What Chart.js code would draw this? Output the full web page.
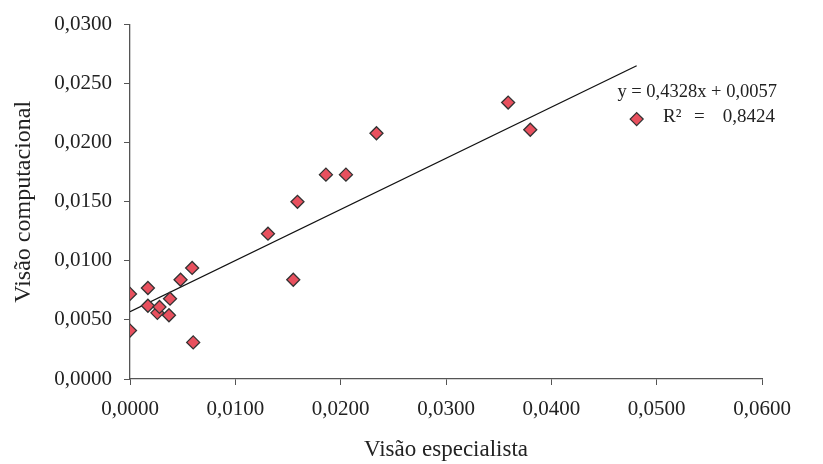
<!DOCTYPE html>
<html>
<head>
<meta charset="utf-8">
<script src="https://cdn.jsdelivr.net/npm/chart.js@4"></script>
<style>
  html, body { margin: 0; padding: 0; background: #fff; }
  #wrap { width: 823px; height: 464px; }
</style>
</head>
<body>
<div id="wrap"><canvas id="myChart"></canvas></div>
<script>
// values
const especialista = [0.0000, 0.0000, 0.0017, 0.0017, 0.0026, 0.0028, 0.0037, 0.0038, 0.0048, 0.0059,
    0.0060, 0.0131, 0.0155, 0.0159, 0.0186, 0.0205, 0.0234, 0.0359, 0.0380, 0.0481];
const computacional = [0.0072, 0.0041, 0.0077, 0.0062, 0.0056, 0.0061, 0.0054, 0.0068, 0.0084, 0.0094,
    0.0031, 0.0123, 0.0084, 0.0150, 0.0173, 0.0173, 0.0208, 0.0234, 0.0211, 0.0220];
const xTicks = [0, 0.01, 0.02, 0.03, 0.04, 0.05, 0.06];
const yTicks = [0, 0.005, 0.01, 0.015, 0.02, 0.025, 0.03];
const slope = 0.4328;
const intercept = 0.0057;
const rSquared = 0.8424;

const fmt = (v) => v.toFixed(4).replace('.', ',');
const serif = "'Liberation Serif', 'DejaVu Serif', serif";

const points = especialista.map((x, i) => ({ x: x, y: computacional[i] }));
const xMin = Math.min(...especialista);
const xMax = Math.max(...especialista);
const trend = [xMin, xMax].map((x) => ({ x: x, y: slope * x + intercept }));

// trendline equation, drawn like the spreadsheet label
const eqLabel = {
    id: 'eqLabel',
    afterDraw(chart) {
        const ctx = chart.ctx;
        ctx.save();
        ctx.fillStyle = '#222';
        ctx.textBaseline = 'alphabetic';
        ctx.font = "18.5px " + serif;
        ctx.textAlign = 'right';
        ctx.fillText('y = ' + fmt(slope) + 'x + ' + fmt(intercept), 777, 97);
        ctx.font = "19px " + serif;
        ctx.fillText(fmt(rSquared), 775, 122);
        ctx.textAlign = 'left';
        ctx.fillText('R²', 663, 122);
        ctx.fillText('=', 694, 122);
        ctx.restore();
    }
};

new Chart(document.querySelector('#myChart').getContext('2d'), {
    type: 'scatter',
    data: {
        datasets: [{
            data: points,
            pointStyle: 'rectRot',
            pointRadius: 6.5,
            pointHoverRadius: 6.5,
            backgroundColor: '#E8505E',
            borderColor: '#333',
            borderWidth: 1.3,
            order: 1
        }, {
            type: 'line',
            data: trend,
            borderColor: '#111',
            borderWidth: 1.3,
            pointRadius: 0,
            fill: false,
            order: 2
        }]
    },
    options: {
        responsive: true,
        maintainAspectRatio: false,
        animation: false,
        layout: { padding: { top: 24, right: 61, left: 0, bottom: 0 } },
        plugins: {
            legend: { display: false },
            tooltip: { enabled: false }
        },
        scales: {
            x: {
                type: 'linear',
                min: 0,
                max: 0.06,
                afterBuildTicks: (scale) => { scale.ticks = xTicks.map((v) => ({ value: v })); },
                afterFit: (scale) => { scale.height = 85; },
                ticks: {
                    callback: (v) => fmt(v),
                    color: '#222',
                    font: { family: serif, size: 21 },
                    padding: 12,
                    maxRotation: 0
                },
                grid: { drawOnChartArea: false, drawTicks: true, tickLength: 6, color: '#555' },
                border: { color: '#555', width: 1.3 },
                title: {
                    display: true,
                    text: 'Visão especialista',
                    color: '#222',
                    font: { family: serif, size: 23 },
                    padding: { top: 0, bottom: 0 }
                }
            },
            y: {
                type: 'linear',
                min: 0,
                max: 0.03,
                afterBuildTicks: (scale) => { scale.ticks = yTicks.map((v) => ({ value: v })); },
                afterFit: (scale) => { scale.width = 130; },
                ticks: {
                    callback: (v) => fmt(v),
                    color: '#222',
                    font: { family: serif, size: 21 },
                    padding: 12
                },
                grid: { drawOnChartArea: false, drawTicks: true, tickLength: 6, color: '#555' },
                border: { color: '#555', width: 1.3 },
                title: {
                    display: true,
                    text: 'Visão computacional',
                    color: '#222',
                    font: { family: serif, size: 24 },
                    padding: { top: 9, bottom: 0 }
                }
            }
        }
    },
    plugins: [eqLabel]
});
</script>
</body>
</html>
